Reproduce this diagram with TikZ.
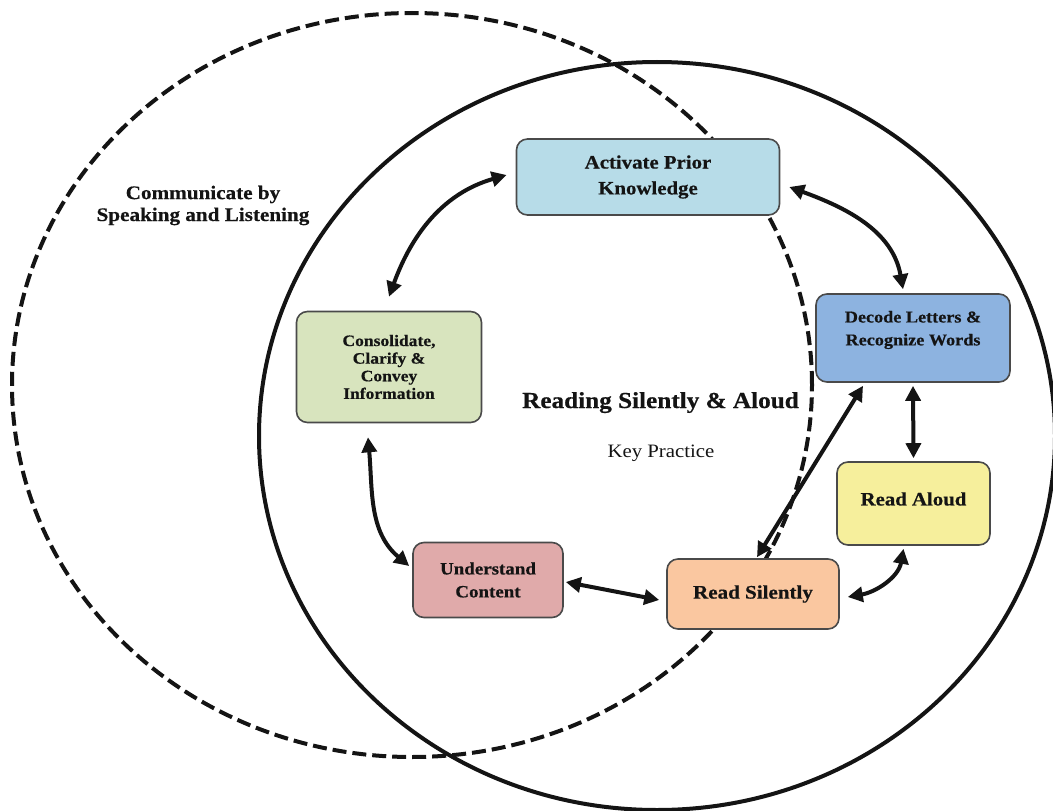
\documentclass[tikz,border=0pt]{standalone}
\usepackage{fontspec}
\setmainfont{Liberation Serif}[FakeStretch=1.1, BoldFeatures={FakeBold=0.5}]
\usetikzlibrary{arrows.meta}

\definecolor{ink}{HTML}{141414}
\definecolor{boxline}{HTML}{4A4A4A}
\definecolor{actfill}{HTML}{B7DCE8}
\definecolor{decfill}{HTML}{8DB3E0}
\definecolor{consfill}{HTML}{D8E4BE}
\definecolor{undfill}{HTML}{E0AAAA}
\definecolor{rsfill}{HTML}{FAC7A0}
\definecolor{rafill}{HTML}{F6EF9C}

\begin{document}
\begin{tikzpicture}[x=1bp,y=1bp,
  ring/.style={draw=ink, line width=4bp},
  dashring/.style={ring, dash pattern=on 14bp off 6bp},
  box/.style={draw=boxline, line width=1.6bp, rounded corners=11bp,
    inner sep=0pt, text=ink, align=center},
  boxtext/.style={inner sep=0pt, text=ink, align=center},
  plaintext/.style={inner sep=0pt, text=ink, align=center},
  tip/.tip={Triangle[length=15bp,width=15bp]},
  link/.style={{tip}-{tip}, draw=ink, line width=4bp}
]
\useasboundingbox (0,0) rectangle (1053,-811);

% the two overlapping practice areas
\draw[dashring] (412,-385) ellipse [x radius=400, y radius=372];
\draw[ring] (657,-436) ellipse [x radius=398, y radius=374];

% stage boxes
\node[box, fill=actfill, minimum width=263bp, minimum height=76bp,
  font=\bfseries\fontsize{19}{26}\selectfont] (act) at (648,-177)
  {Activate Prior\\Knowledge};
\node[box, fill=decfill, minimum width=194bp, minimum height=88bp] (dec) at (913,-338) {};
\node[boxtext, font=\bfseries\fontsize{16.6}{23}\selectfont] (dect) at (913,-330)
  {Decode Letters \&\\Recognize Words};
\node[box, fill=consfill, minimum width=185bp, minimum height=111bp,
  font=\bfseries\fontsize{16}{17.7}\selectfont] (cons) at (389,-367)
  {Consolidate,\\Clarify \&\\Convey\\Information};
\node[box, fill=undfill, minimum width=150bp, minimum height=75bp,
  font=\bfseries\fontsize{17.3}{23}\selectfont] (und) at (488,-580)
  {Understand\\Content};
\node[box, fill=rsfill, minimum width=172bp, minimum height=70bp,
  font=\bfseries\fontsize{19.2}{23}\selectfont] (rs) at (753,-594)
  {Read Silently};
\node[box, fill=rafill, minimum width=153bp, minimum height=83bp] (ra) at (913.5,-503.5) {};
\node[boxtext, font=\bfseries\fontsize{19}{23}\selectfont] (rat) at (913.5,-499)
  {Read Aloud};

% area labels
\node[plaintext, font=\bfseries\fontsize{19.3}{22}\selectfont] (comm) at (203,-205.5)
  {Communicate by\\Speaking and Listening};
\node[plaintext, anchor=base, font=\bfseries\fontsize{23}{26}\selectfont] (core) at (660.5,-408)
  {Reading Silently \& Aloud};
\node[plaintext, anchor=base, font=\fontsize{19}{22}\selectfont] (key) at (661,-457)
  {Key Practice};

% two-way links between stages
\draw[link] ([yshift=14bp]cons.north) to[out=70,in=196] ([xshift=-9bp,yshift=2bp]act.west);
\draw[link] ([xshift=9bp,yshift=-10bp]act.east) to[out=-20,in=100] ([xshift=-10bp,yshift=4bp]dec.north);
\draw[link] ([xshift=-21bp,yshift=-14bp]cons.south) to[out=-85,in=140] ([xshift=-3bp,yshift=14bp]und.west);
\draw[link] ([xshift=2bp,yshift=-2bp]und.east) -- ([xshift=-7bp,yshift=-6bp]rs.west);
\draw[link] ([xshift=4bp,yshift=1bp]rs.north) -- ([xshift=-50bp,yshift=-3bp]dec.south);
\draw[link] ([yshift=-3bp]dec.south) -- ([yshift=3bp]ra.north);
\draw[link] ([xshift=-10bp,yshift=-3bp]ra.south) to[out=-100,in=10] ([xshift=8bp,yshift=-3bp]rs.east);
\end{tikzpicture}
\end{document}
